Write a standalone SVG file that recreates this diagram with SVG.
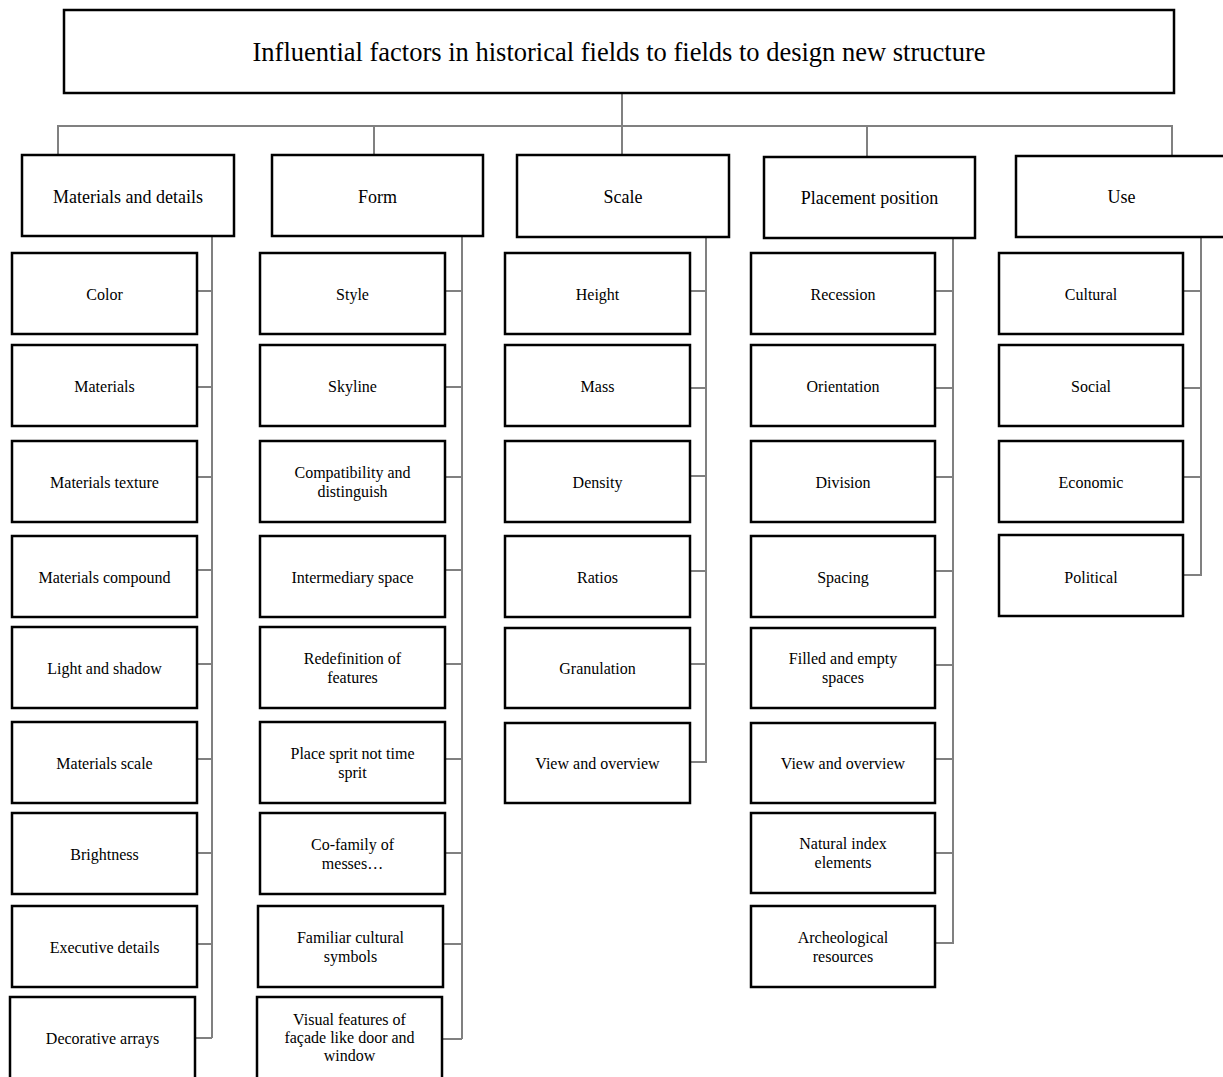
<svg xmlns="http://www.w3.org/2000/svg" width="1223" height="1077" viewBox="0 0 1223 1077">
<style>
.box{fill:#fff;stroke:#000;stroke-width:2.5}
.con{fill:none;stroke:#808080;stroke-width:2}
text{font-family:"Liberation Serif","Times New Roman",serif;fill:#000;text-anchor:middle}
.t{font-size:26.5px}
.h{font-size:18px}
.c{font-size:16px}
</style>
<rect width="1223" height="1077" fill="#fff"/>
<g id="connectors">
<path class="con" d="M622,93 V155 M58,155 V126 H1172 V156 M374,126 V155 M867,126 V157"/>
<path class="con" d="M212,236 V1038 M197,291 H212 M197,387 H212 M197,477 H212 M197,570 H212 M197,664 H212 M197,759 H212 M197,853 H212 M197,944 H212 M195,1038 H212"/>
<path class="con" d="M462,236 V1039 M445,291 H462 M445,387 H462 M445,477 H462 M445,570 H462 M445,664 H462 M445,759 H462 M445,853 H462 M443,944 H462 M442,1039 H462"/>
<path class="con" d="M706,237 V762 H690 M690,291 H706 M690,388 H706 M690,476 H706 M690,571 H706 M690,664 H706"/>
<path class="con" d="M953,238 V943 H935 M935,291 H953 M935,388 H953 M935,477 H953 M935,571 H953 M935,665 H953 M935,759 H953 M935,853 H953"/>
<path class="con" d="M1201,237 V575 H1183 M1183,291 H1201 M1183,388 H1201 M1183,477 H1201"/>
</g>
<g id="root"><rect class="box" x="64" y="10" width="1110" height="83"/><text class="t" x="619" y="61">Influential factors in historical fields to fields to design new structure</text></g>
<g id="h-materials"><rect class="box" x="22" y="155" width="212" height="81"/><text class="h" x="128" y="203">Materials and details</text></g>
<g id="h-form"><rect class="box" x="272" y="155" width="211" height="81"/><text class="h" x="377.5" y="203">Form</text></g>
<g id="h-scale"><rect class="box" x="517" y="155" width="212" height="82"/><text class="h" x="623" y="203">Scale</text></g>
<g id="h-placement"><rect class="box" x="764" y="157" width="211" height="81"/><text class="h" x="869.5" y="204">Placement position</text></g>
<g id="h-use"><rect class="box" x="1016" y="156" width="212" height="81"/><text class="h" x="1121.5" y="203">Use</text></g>

<g id="m1"><rect class="box" x="12" y="253" width="185" height="81"/><text class="c" x="104.5" y="300">Color</text></g>
<g id="m2"><rect class="box" x="12" y="345" width="185" height="81"/><text class="c" x="104.5" y="392">Materials</text></g>
<g id="m3"><rect class="box" x="12" y="441" width="185" height="81"/><text class="c" x="104.5" y="488">Materials texture</text></g>
<g id="m4"><rect class="box" x="12" y="536" width="185" height="81"/><text class="c" x="104.5" y="583">Materials compound</text></g>
<g id="m5"><rect class="box" x="12" y="627" width="185" height="81"/><text class="c" x="104.5" y="674">Light and shadow</text></g>
<g id="m6"><rect class="box" x="12" y="722" width="185" height="81"/><text class="c" x="104.5" y="769">Materials scale</text></g>
<g id="m7"><rect class="box" x="12" y="813" width="185" height="81"/><text class="c" x="104.5" y="860">Brightness</text></g>
<g id="m8"><rect class="box" x="12" y="906" width="185" height="81"/><text class="c" x="104.5" y="953">Executive details</text></g>
<g id="m9"><rect class="box" x="10" y="997" width="185" height="84"/><text class="c" x="102.5" y="1044">Decorative arrays</text></g>

<g id="f1"><rect class="box" x="260" y="253" width="185" height="81"/><text class="c" x="352.5" y="300">Style</text></g>
<g id="f2"><rect class="box" x="260" y="345" width="185" height="81"/><text class="c" x="352.5" y="392">Skyline</text></g>
<g id="f3"><rect class="box" x="260" y="441" width="185" height="81"/><text class="c" x="352.5" y="478">Compatibility and</text><text class="c" x="352.5" y="497">distinguish</text></g>
<g id="f4"><rect class="box" x="260" y="536" width="185" height="81"/><text class="c" x="352.5" y="583">Intermediary space</text></g>
<g id="f5"><rect class="box" x="260" y="627" width="185" height="81"/><text class="c" x="352.5" y="664">Redefinition of</text><text class="c" x="352.5" y="683">features</text></g>
<g id="f6"><rect class="box" x="260" y="722" width="185" height="81"/><text class="c" x="352.5" y="759">Place sprit not time</text><text class="c" x="352.5" y="778">sprit</text></g>
<g id="f7"><rect class="box" x="260" y="813" width="185" height="81"/><text class="c" x="352.5" y="850">Co-family of</text><text class="c" x="352.5" y="869">messes…</text></g>
<g id="f8"><rect class="box" x="258" y="906" width="185" height="81"/><text class="c" x="350.5" y="943">Familiar cultural</text><text class="c" x="350.5" y="962">symbols</text></g>
<g id="f9"><rect class="box" x="257" y="997" width="185" height="84"/><text class="c" x="349.5" y="1025">Visual features of</text><text class="c" x="349.5" y="1043">façade like door and</text><text class="c" x="349.5" y="1061">window</text></g>

<g id="s1"><rect class="box" x="505" y="253" width="185" height="81"/><text class="c" x="597.5" y="300">Height</text></g>
<g id="s2"><rect class="box" x="505" y="345" width="185" height="81"/><text class="c" x="597.5" y="392">Mass</text></g>
<g id="s3"><rect class="box" x="505" y="441" width="185" height="81"/><text class="c" x="597.5" y="488">Density</text></g>
<g id="s4"><rect class="box" x="505" y="536" width="185" height="81"/><text class="c" x="597.5" y="583">Ratios</text></g>
<g id="s5"><rect class="box" x="505" y="628" width="185" height="80"/><text class="c" x="597.5" y="674">Granulation</text></g>
<g id="s6"><rect class="box" x="505" y="723" width="185" height="80"/><text class="c" x="597.5" y="769">View and overview</text></g>

<g id="p1"><rect class="box" x="751" y="253" width="184" height="81"/><text class="c" x="843" y="300">Recession</text></g>
<g id="p2"><rect class="box" x="751" y="345" width="184" height="81"/><text class="c" x="843" y="392">Orientation</text></g>
<g id="p3"><rect class="box" x="751" y="441" width="184" height="81"/><text class="c" x="843" y="488">Division</text></g>
<g id="p4"><rect class="box" x="751" y="536" width="184" height="81"/><text class="c" x="843" y="583">Spacing</text></g>
<g id="p5"><rect class="box" x="751" y="628" width="184" height="80"/><text class="c" x="843" y="664">Filled and empty</text><text class="c" x="843" y="683">spaces</text></g>
<g id="p6"><rect class="box" x="751" y="723" width="184" height="80"/><text class="c" x="843" y="769">View and overview</text></g>
<g id="p7"><rect class="box" x="751" y="813" width="184" height="80"/><text class="c" x="843" y="849">Natural index</text><text class="c" x="843" y="868">elements</text></g>
<g id="p8"><rect class="box" x="751" y="906" width="184" height="81"/><text class="c" x="843" y="943">Archeological</text><text class="c" x="843" y="962">resources</text></g>

<g id="u1"><rect class="box" x="999" y="253" width="184" height="81"/><text class="c" x="1091" y="300">Cultural</text></g>
<g id="u2"><rect class="box" x="999" y="345" width="184" height="81"/><text class="c" x="1091" y="392">Social</text></g>
<g id="u3"><rect class="box" x="999" y="441" width="184" height="81"/><text class="c" x="1091" y="488">Economic</text></g>
<g id="u4"><rect class="box" x="999" y="535" width="184" height="81"/><text class="c" x="1091" y="583">Political</text></g>
</svg>
